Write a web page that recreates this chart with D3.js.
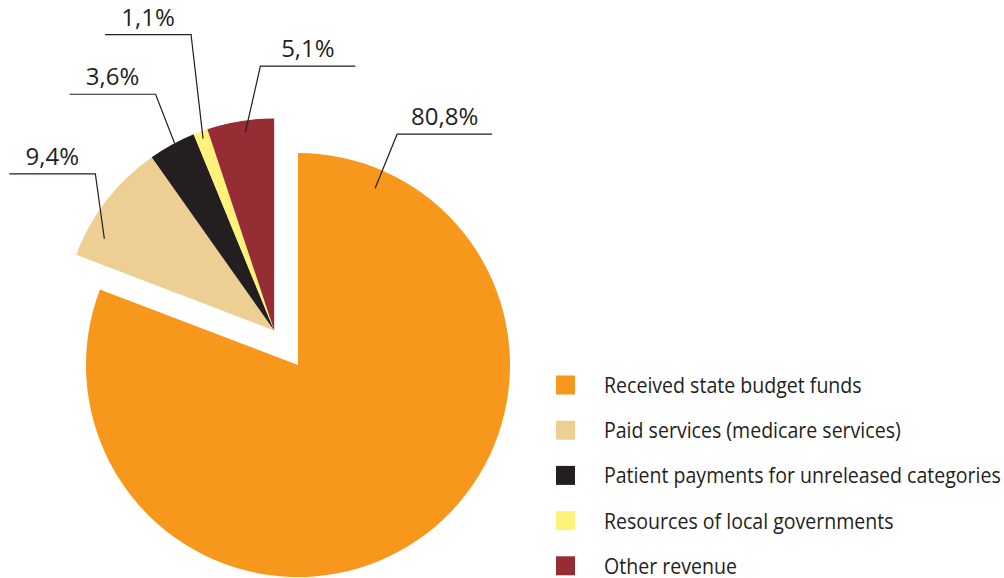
<!DOCTYPE html>
<html>
<head>
<meta charset="utf-8">
<script src="https://cdnjs.cloudflare.com/ajax/libs/d3/7.8.5/d3.min.js"></script>
<style>
  body { margin: 0; background: #fff; }
  svg text { font-family: "Open Sans", sans-serif; fill: #231f20; }
</style>
</head>
<body>
<div id="viz"></div>
<script>
// data
var categories = ["Received state budget funds", "Paid services (medicare services)",
    "Patient payments for unreleased categories", "Resources of local governments", "Other revenue"];
var shares = [80.8, 9.4, 3.6, 1.1, 5.1];
var labels = ["80,8%", "9,4%", "3,6%", "1,1%", "5,1%"];

var colors = ["#f7981d", "#edcf94", "#231f20", "#fff27a", "#962c34"];

var width = 1004, height = 578;
var cx = 298, cy = 365, radius = 212, explode = 42;

// label layout: where in the slice the leader starts, elbow offset, leader length
var labelLayout = [
    {frac: 0.081, r: 0.91, dx: 22, dy: -54, len: 95},
    {frac: 0.22, r: 0.91, dx: -9, dy: -65, len: -86},
    {frac: 0.56, r: 1.0, dx: -19, dy: -49, len: -86},
    {frac: 0.5, r: 0.965, dx: -12, dy: -104, len: -86},
    {frac: 0.55, r: 0.945, dx: 15, dy: -66, len: 95}
];

var svg = d3.select("#viz").append("svg")
    .attr("width", width)
    .attr("height", height);

var pie = d3.pie()
    .sort(null)
    .value(function(d) { return d; });

var arcs = pie(shares);

var arc = d3.arc()
    .innerRadius(0)
    .outerRadius(radius);

// the small slices are pulled out together
var groupStart = arcs[1].startAngle, groupEnd = arcs[4].endAngle;
var groupMid = (groupStart + groupEnd) / 2;
var offX = Math.sin(groupMid) * explode, offY = -Math.cos(groupMid) * explode;

function sliceOrigin(i) {
    if (i == 0) return [cx, cy];
    return [cx + offX, cy + offY];
}

svg.selectAll("path.slice")
    .data(arcs)
    .enter()
    .append("path")
    .attr("class", "slice")
    .attr("transform", function(d, i) { return "translate(" + sliceOrigin(i) + ")"; })
    .attr("d", arc)
    .attr("fill", function(d, i) { return colors[i]; });

// leader lines and labels
arcs.forEach(function(d, i) {
    var L = labelLayout[i];
    var o = sliceOrigin(i);
    var a = d.startAngle + (d.endAngle - d.startAngle) * L.frac;
    var ax = o[0] + Math.sin(a) * radius * L.r;
    var ay = o[1] - Math.cos(a) * radius * L.r;
    var ex = ax + L.dx, ey = ay + L.dy;
    var endX = ex + L.len;

    svg.append("polyline")
        .attr("points", [[ax, ay], [ex, ey], [endX, ey]].join(" "))
        .attr("fill", "none")
        .attr("stroke", "#231f20")
        .attr("stroke-width", 1.2);

    svg.append("text")
        .attr("x", (ex + endX) / 2)
        .attr("y", ey - 9)
        .attr("text-anchor", "middle")
        .style("font-size", "24px")
        .text(labels[i]);
});

// legend
var legend = svg.append("g")
    .attr("transform", "translate(556,385)");

var item = legend.selectAll("g")
    .data(categories)
    .enter()
    .append("g")
    .attr("transform", function(d, i) { return "translate(0," + (i * 45.2) + ")"; });

item.append("rect")
    .attr("x", 0)
    .attr("y", -9.5)
    .attr("width", 19)
    .attr("height", 19)
    .attr("fill", function(d, i) { return colors[i]; });

var legText = item.append("text")
    .attr("y", 8)
    .style("font-size", "21px")
    .text(function(d) { return d; });

// reference font is narrower: squeeze so the longest entry ends near the right edge
var longest = d3.max(legText.nodes(), function(n) { return n.getComputedTextLength(); });
var k = Math.min(1, 397 / longest);
legText.attr("transform", "translate(48,0) scale(" + k + ",1)");
</script>
</body>
</html>
